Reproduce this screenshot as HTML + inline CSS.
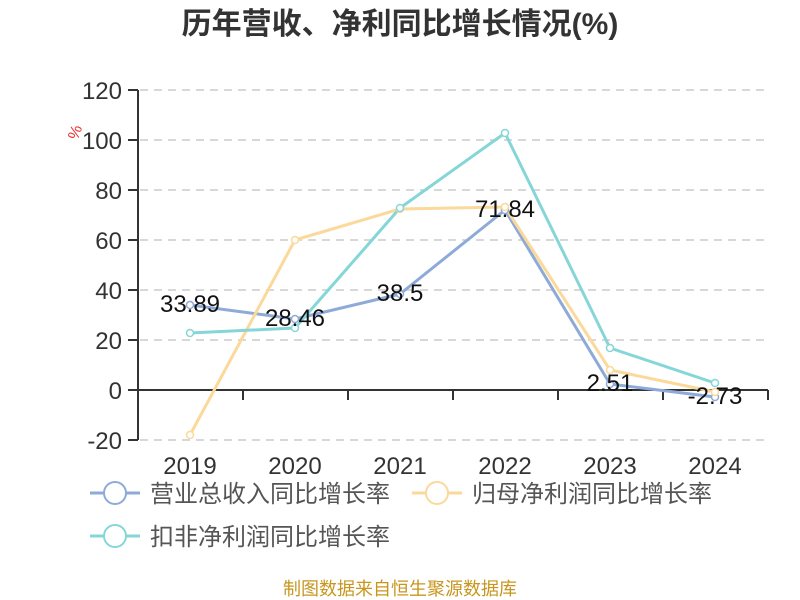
<!DOCTYPE html>
<html><head><meta charset="utf-8"><style>
html,body{margin:0;padding:0;background:#fff;}
svg{display:block;font-family:"Liberation Sans","Noto Sans CJK SC",sans-serif;}
</style></head><body>
<svg width="800" height="600" viewBox="0 0 800 600">
<text x="400" y="34" text-anchor="middle" font-size="30" font-weight="bold" fill="#333">历年营收、净利同比增长情况(%)</text>
<g stroke="#ccc" stroke-width="1.5" stroke-dasharray="8,6">
<line x1="140" y1="90" x2="770" y2="90"/><line x1="140" y1="140" x2="770" y2="140"/>
<line x1="140" y1="190" x2="770" y2="190"/><line x1="140" y1="240" x2="770" y2="240"/>
<line x1="140" y1="290" x2="770" y2="290"/><line x1="140" y1="340" x2="770" y2="340"/>
<line x1="140" y1="440" x2="770" y2="440"/>
</g>
<g stroke="#333" stroke-width="2">
<line x1="138" y1="90" x2="138" y2="440"/>
<line x1="128" y1="90" x2="138" y2="90"/><line x1="128" y1="140" x2="138" y2="140"/>
<line x1="128" y1="190" x2="138" y2="190"/><line x1="128" y1="240" x2="138" y2="240"/>
<line x1="128" y1="290" x2="138" y2="290"/><line x1="128" y1="340" x2="138" y2="340"/>
<line x1="128" y1="390" x2="138" y2="390"/><line x1="128" y1="440" x2="138" y2="440"/>
<line x1="138" y1="390" x2="768" y2="390"/>
<line x1="138" y1="390" x2="138" y2="400"/><line x1="243" y1="390" x2="243" y2="400"/>
<line x1="348" y1="390" x2="348" y2="400"/><line x1="453" y1="390" x2="453" y2="400"/>
<line x1="558" y1="390" x2="558" y2="400"/><line x1="663" y1="390" x2="663" y2="400"/>
<line x1="768" y1="390" x2="768" y2="400"/>
</g>
<g font-size="24" fill="#333" text-anchor="end">
<text x="122" y="99">120</text><text x="122" y="149">100</text><text x="122" y="199">80</text>
<text x="122" y="249">60</text><text x="122" y="299">40</text><text x="122" y="349">20</text>
<text x="122" y="399">0</text><text x="122" y="449">-20</text>
</g>
<text x="80" y="134" font-size="16" fill="#e33" transform="rotate(-70 80 134)" text-anchor="middle">%</text>
<g font-size="24" fill="#333" text-anchor="middle">
<text x="190" y="474">2019</text><text x="295" y="474">2020</text><text x="400" y="474">2021</text>
<text x="505" y="474">2022</text><text x="610" y="474">2023</text><text x="715" y="474">2024</text>
</g>
<g fill="none" stroke-width="3" stroke-linejoin="round">
<polyline stroke="#8eaad8" points="190,305 295,319 400,294 505,210 610,384 715,397"/>
<polyline stroke="#fbd99a" points="190,435 295,240 400,209 505,207 610,370 715,392"/>
<polyline stroke="#86d6d8" points="190,333 295,328 400,208 505,133 610,348 715,383"/>
</g>
<g fill="#fff" stroke-width="1.5">
<g stroke="#8eaad8"><circle cx="190" cy="305" r="3.5"/><circle cx="295" cy="319" r="3.5"/><circle cx="400" cy="294" r="3.5"/><circle cx="505" cy="210" r="3.5"/><circle cx="610" cy="384" r="3.5"/><circle cx="715" cy="397" r="3.5"/></g>
<g stroke="#fbd99a"><circle cx="190" cy="435" r="3.5"/><circle cx="295" cy="240" r="3.5"/><circle cx="400" cy="209" r="3.5"/><circle cx="505" cy="207" r="3.5"/><circle cx="610" cy="370" r="3.5"/><circle cx="715" cy="392" r="3.5"/></g>
<g stroke="#86d6d8"><circle cx="190" cy="333" r="3.5"/><circle cx="295" cy="328" r="3.5"/><circle cx="400" cy="208" r="3.5"/><circle cx="505" cy="133" r="3.5"/><circle cx="610" cy="348" r="3.5"/><circle cx="715" cy="383" r="3.5"/></g>
</g>
<g font-size="24" fill="#111" text-anchor="middle">
<text x="190" y="312">33.89</text><text x="295" y="326">28.46</text><text x="400" y="301">38.5</text>
<text x="505" y="217">71.84</text><text x="610" y="391">2.51</text><text x="715" y="404">-2.73</text>
</g>
<g font-size="24" fill="#555">
<line x1="90" y1="493" x2="140" y2="493" stroke="#8eaad8" stroke-width="3"/><circle cx="115" cy="493" r="11" fill="#fff" stroke="#8eaad8" stroke-width="2"/>
<text x="150" y="502">营业总收入同比增长率</text>
<line x1="412" y1="493" x2="462" y2="493" stroke="#fbd99a" stroke-width="3"/><circle cx="437" cy="493" r="11" fill="#fff" stroke="#fbd99a" stroke-width="2"/>
<text x="472" y="502">归母净利润同比增长率</text>
<line x1="90" y1="536" x2="140" y2="536" stroke="#86d6d8" stroke-width="3"/><circle cx="115" cy="536" r="11" fill="#fff" stroke="#86d6d8" stroke-width="2"/>
<text x="150" y="545">扣非净利润同比增长率</text>
</g>
<text x="400" y="595" font-size="18" fill="#c8961e" text-anchor="middle">制图数据来自恒生聚源数据库</text>
</svg>
</body></html>
